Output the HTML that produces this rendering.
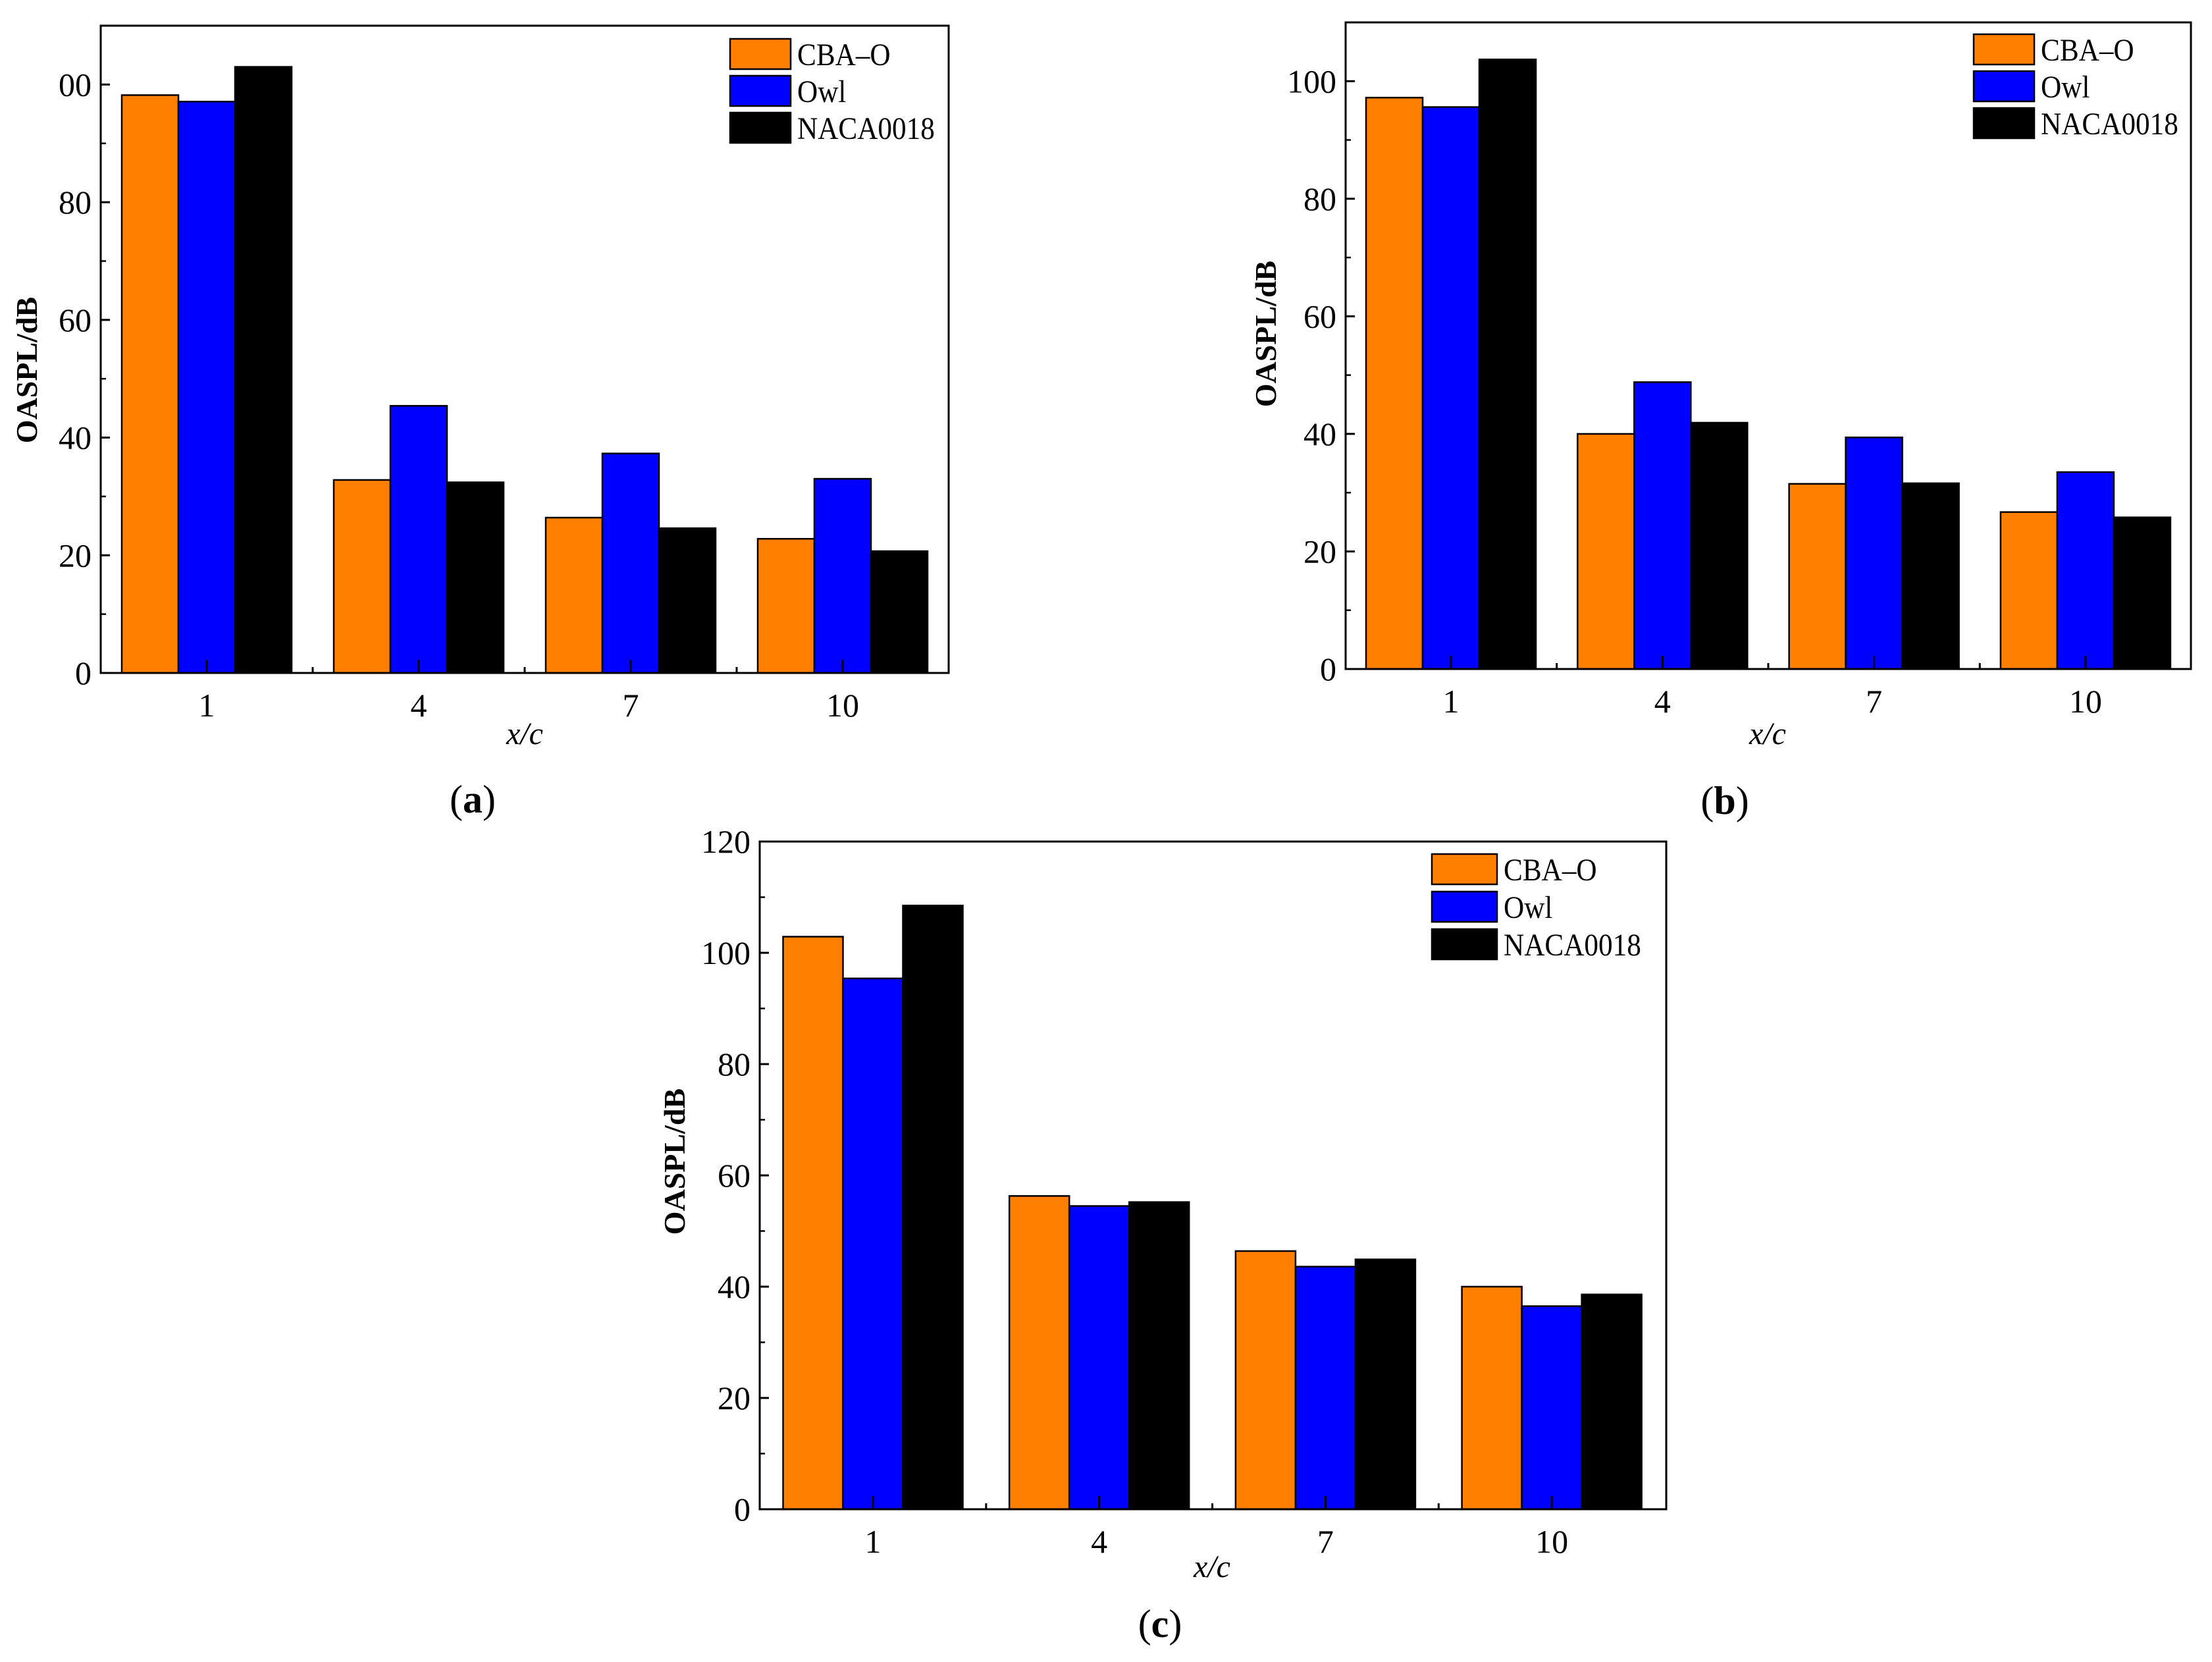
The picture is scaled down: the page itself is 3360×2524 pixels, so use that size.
<!DOCTYPE html>
<html><head><meta charset="utf-8"><style>
html,body{margin:0;padding:0;background:#fff;}
svg{display:block;}
text{font-family:"Liberation Serif",serif;fill:#000;}
</style></head><body>
<svg id="fig" width="3360" height="2524" viewBox="0 0 3360 2524" xmlns="http://www.w3.org/2000/svg">
<defs><clipPath id="clipA"><rect x="87" y="0" width="2000" height="1300"/></clipPath></defs>
</svg>
<script>
const categories = ["1", "4", "7", "10"];
const seriesNames = ["CBA\u2013O", "Owl", "NACA0018"];
const seriesColors = ["#ff7f00", "#0000ff", "#000000"];
const aCBA = [98.2, 32.8, 26.4, 22.8];
const aOwl = [97.1, 45.4, 37.3, 33.0];
const aNACA = [103.0, 32.4, 24.6, 20.7];
const bCBA = [97.2, 40.0, 31.5, 26.7];
const bOwl = [95.6, 48.8, 39.4, 33.5];
const bNACA = [103.7, 41.9, 31.6, 25.8];
const cCBA = [102.9, 56.3, 46.4, 40.0];
const cOwl = [95.4, 54.5, 43.6, 36.5];
const cNACA = [108.5, 55.2, 44.9, 38.6];
const ticksAB = [0, 20, 40, 60, 80, 100];
const ticksC = [0, 20, 40, 60, 80, 100, 120];

const NS = "http://www.w3.org/2000/svg";
const svg = document.getElementById('fig');
function mk(tag, attrs, parent) {
  const e = document.createElementNS(NS, tag);
  for (const k in attrs) e.setAttribute(k, attrs[k]);
  (parent || svg).appendChild(e);
  return e;
}
function squeeze(t, f) {
  const w = t.getComputedTextLength();
  if (w > 0) { t.setAttribute('textLength', w * f); t.setAttribute('lengthAdjust', 'spacingAndGlyphs'); }
}

function panel(cfg) {
  const g = mk('g', {});
  
  
  const L = cfg.left, R = cfg.right, T = cfg.top, B = cfg.bottom;
  const yS = v => B - (v / cfg.ymax) * (B - T);
  const xS = i => cfg.firstCenter + i * cfg.spacing;
  const data = cfg.series;
  for (let i = 0; i < categories.length; i++) {
    for (let s = 0; s < data.length; s++) {
      const x0 = xS(i) - 1.5 * cfg.barW + s * cfg.barW;
      const y0 = yS(data[s][i]);
      const r = mk('rect', {x: x0, y: y0, width: cfg.barW, height: B - y0, fill: seriesColors[s], stroke: '#000', 'stroke-width': 2.5}, g);
      
      
    }
  }
  const fr = mk('rect', {x: L, y: T, width: R - L, height: B - T, fill: 'none', stroke: '#000', 'stroke-width': 3}, g);
  
  
  const tg = mk('g', cfg.clip ? {'clip-path': 'url(#' + cfg.clip + ')'} : {}, g);
  
  
  const ticks = cfg.ticks;
  for (let k = 0; k < ticks.length; k++) {
    const y = yS(ticks[k]);
    mk('line', {x1: L, x2: L + 14, y1: y, y2: y, stroke: '#000', 'stroke-width': 3}, tg);
    if (k < ticks.length - 1) {
      const ym = yS((ticks[k] + ticks[k + 1]) / 2);
      mk('line', {x1: L, x2: L + 8, y1: ym, y2: ym, stroke: '#000', 'stroke-width': 2.5}, tg);
    }
    const t = mk('text', {x: L - 14, y: y + 17, 'text-anchor': 'end', 'font-size': 50}, tg);
    t.textContent = ticks[k];
    
    
  }
  for (let i = 0; i < categories.length; i++) {
    mk('line', {x1: xS(i), x2: xS(i), y1: B, y2: B - 20, stroke: '#000', 'stroke-width': 3}, g);
    if (i > 0) { const xm = (xS(i) + xS(i - 1)) / 2; mk('line', {x1: xm, x2: xm, y1: B, y2: B - 9, stroke: '#000', 'stroke-width': 3}, g); }
    const t = mk('text', {x: xS(i), y: B + 66, 'text-anchor': 'middle', 'font-size': 50}, g);
    t.textContent = categories[i];
    
    
  }
  const xt = mk('text', {x: cfg.xtX, y: cfg.xtY, 'text-anchor': 'middle', 'font-size': 48, 'font-style': 'italic'}, g);
  xt.textContent = 'x/c';
  
  
  const yt = mk('text', {x: 0, y: 0, 'text-anchor': 'middle', 'font-size': 46, 'font-weight': 'bold', transform: 'translate(' + cfg.ytX + ',' + cfg.ytY + ') rotate(-90)'}, g);
  yt.textContent = 'OASPL/dB';
  
  
  for (let s = 0; s < seriesNames.length; s++) {
    const lg = mk('g', {}, g);
    
    
    const y0 = cfg.legY + s * cfg.legStep;
    mk('rect', {x: cfg.legX, y: y0, width: cfg.legW, height: 46, fill: seriesColors[s], stroke: '#000', 'stroke-width': 2.5}, lg);
    const t = mk('text', {x: cfg.legX + cfg.legW + 10, y: y0 + 40, 'font-size': 48}, lg);
    t.textContent = seriesNames[s];
    squeeze(t, 0.9);
  }
  const cap = mk('text', {x: cfg.capX, y: cfg.capY, 'text-anchor': 'middle', 'font-size': 60}, g);
  cap.innerHTML = '(<tspan font-weight="bold">' + cfg.id + '</tspan>)';
  
  
}

panel({id: 'a', left: 153, right: 1441, top: 39, bottom: 1022, ymax: 110, ticks: ticksAB, clip: 'clipA',
  firstCenter: 314, spacing: 322, barW: 86, series: [aCBA, aOwl, aNACA],
  xtX: 797, xtY: 1130, ytX: 56, ytY: 562, legX: 1109, legY: 59, legStep: 56, legW: 92, capX: 718, capY: 1234});
panel({id: 'b', left: 2044, right: 3328, top: 34, bottom: 1016, ymax: 110, ticks: ticksAB,
  firstCenter: 2204, spacing: 321.3, barW: 86, series: [bCBA, bOwl, bNACA],
  xtX: 2685, xtY: 1130, ytX: 1938, ytY: 507, legX: 2998, legY: 52, legStep: 56, legW: 92, capX: 2620, capY: 1236});
panel({id: 'c', left: 1154, right: 2531, top: 1278, bottom: 2292, ymax: 120, ticks: ticksC,
  firstCenter: 1326, spacing: 343.7, barW: 91, series: [cCBA, cOwl, cNACA],
  xtX: 1841, xtY: 2395, ytX: 1040, ytY: 1764, legX: 2175, legY: 1297, legStep: 57, legW: 99, capX: 1762, capY: 2486});
</script>
</body></html>
